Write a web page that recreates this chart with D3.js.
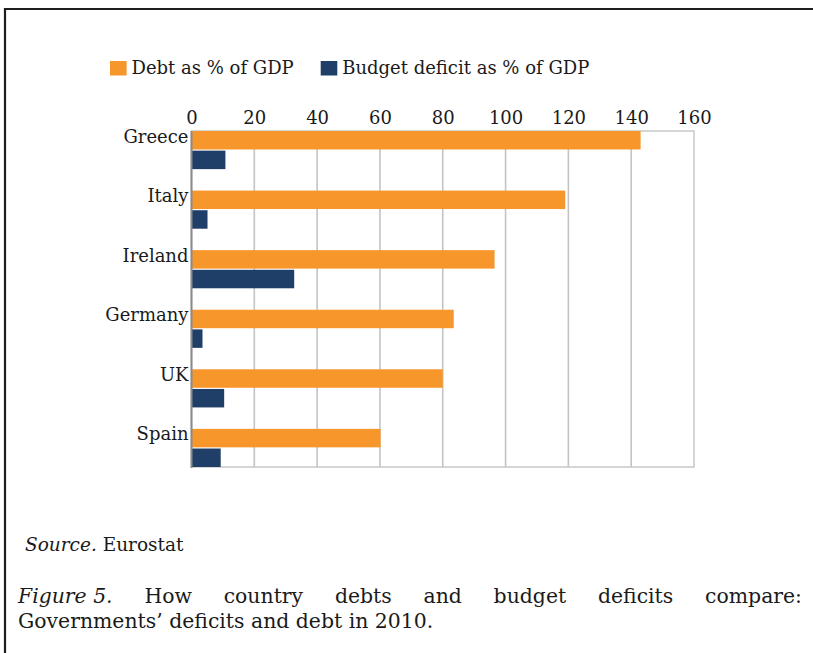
<!DOCTYPE html>
<html>
<head>
<meta charset="utf-8">
<script src="https://cdn.jsdelivr.net/npm/d3@7"></script>
<style>
  html, body { margin: 0; padding: 0; background: #fff; }
  svg { display: block; }
  text { font-family: "DejaVu Serif", "Liberation Serif", serif; fill: #1a1a1a; }
</style>
</head>
<body>
<svg id="chart" width="813" height="653"></svg>
<script>
// Government debt and budget deficit, % of GDP, 2010
const countries = ["Greece", "Italy", "Ireland", "Germany", "UK", "Spain"];
const debtPct = [143, 119, 96.5, 83.5, 80, 60.2];
const deficitPct = [10.8, 5.1, 32.7, 3.5, 10.4, 9.3];
const seriesNames = ["Debt as % of GDP", "Budget deficit as % of GDP"];
const xTicks = [0, 20, 40, 60, 80, 100, 120, 140, 160];
const sourceNote = ["Source.", " Eurostat"];
const captionLine1 = ["Figure 5.", "How", "country", "debts", "and", "budget", "deficits", "compare:"];
const captionLine2 = "Governments’ deficits and debt in 2010.";

const colors = ["#f7962b", "#1f3e68"];

const svg = d3.select("#chart");

// Frame: top rule and left rule
svg.append("line").attr("x1", 4).attr("x2", 813).attr("y1", 9).attr("y2", 9)
  .attr("stroke", "#1e1e1e").attr("stroke-width", 2.2);
svg.append("line").attr("x1", 5).attr("x2", 5).attr("y1", 8).attr("y2", 653)
  .attr("stroke", "#1e1e1e").attr("stroke-width", 2.2);

const plot = { left: 191.5, right: 694, top: 131, bottom: 467 };

const x = d3.scaleLinear().domain([0, 160]).range([plot.left, plot.right]);
const y = d3.scaleBand().domain(countries).range([plot.top, plot.bottom])
  .paddingInner(0.36).paddingOuter(0);
const sub = d3.scaleBand().domain([0, 1]).range([0, y.bandwidth()]).paddingInner(0.06);

// Plot frame
svg.append("rect")
  .attr("x", plot.left).attr("y", plot.top)
  .attr("width", plot.right - plot.left).attr("height", plot.bottom - plot.top)
  .attr("fill", "#fff").attr("stroke", "#c4c4c4").attr("stroke-width", 1.4);

// Vertical gridlines
svg.append("g").selectAll("line")
  .data(xTicks.filter(t => t > 0 && t < 160))
  .join("line")
  .attr("x1", d => x(d)).attr("x2", d => x(d))
  .attr("y1", plot.top).attr("y2", plot.bottom)
  .attr("stroke", "#c4c4c4").attr("stroke-width", 1.6);

// Top axis labels
const xAxis = d3.axisTop(x).tickValues(xTicks).tickSize(0).tickPadding(0);
const gx = svg.append("g").attr("transform", `translate(0,${plot.top - 7})`).call(xAxis);
gx.select(".domain").remove();
gx.selectAll("text")
  .attr("font-family", "DejaVu Serif, serif").attr("font-size", 18)
  .attr("fill", "#1a1a1a").attr("dy", 0);

// Bars
const groups = svg.append("g").selectAll("g")
  .data(countries.map((c, i) => ({ c, vals: [debtPct[i], deficitPct[i]] })))
  .join("g")
  .attr("transform", d => `translate(0,${y(d.c)})`);

groups.selectAll("rect")
  .data(d => d.vals.map((v, k) => ({ v, k })))
  .join("rect")
  .attr("x", x(0))
  .attr("y", d => sub(d.k))
  .attr("width", d => x(d.v) - x(0))
  .attr("height", sub.bandwidth())
  .attr("fill", d => colors[d.k]);

// Category axis line
svg.append("line")
  .attr("x1", plot.left).attr("x2", plot.left)
  .attr("y1", plot.top).attr("y2", plot.bottom + 1)
  .attr("stroke", "#8a8a8a").attr("stroke-width", 2);

// Category labels
svg.append("g").selectAll("text")
  .data(countries)
  .join("text")
  .attr("x", plot.left - 3)
  .attr("y", d => y(d) + 11.5)
  .attr("text-anchor", "end")
  .attr("font-size", 18)
  .text(d => d);

// Legend
const legendX = [110, 320.7];
const legend = svg.append("g").selectAll("g")
  .data(seriesNames)
  .join("g")
  .attr("transform", (d, i) => `translate(${legendX[i]},61)`);
legend.append("rect").attr("width", 16.6).attr("height", 14.5)
  .attr("fill", (d, i) => colors[i]);
legend.append("text").attr("x", 21.5).attr("y", 13).attr("font-size", 18).text(d => d);

// Source note
const src = svg.append("text").attr("x", 25).attr("y", 551).attr("font-size", 18.5);
src.append("tspan").attr("font-style", "italic").text(sourceNote[0]);
src.append("tspan").text(sourceNote[1]);

// Caption, first line justified between the margins
const capSize = 20.4;
const capLeft = 18, capRight = 802;
const line1 = svg.append("g");
const words = line1.selectAll("text")
  .data(captionLine1)
  .join("text")
  .attr("y", 603)
  .attr("font-size", capSize)
  .attr("font-style", (d, i) => i === 0 ? "italic" : null)
  .text(d => d);
const widths = [];
words.each(function () { widths.push(this.getComputedTextLength()); });
const gap = (capRight - capLeft - d3.sum(widths)) / (captionLine1.length - 1);
let cx = capLeft;
words.attr("x", (d, i) => { const p = cx; cx += widths[i] + gap; return p; });

svg.append("text").attr("x", capLeft).attr("y", 628)
  .attr("font-size", capSize).text(captionLine2);
</script>
</body>
</html>
